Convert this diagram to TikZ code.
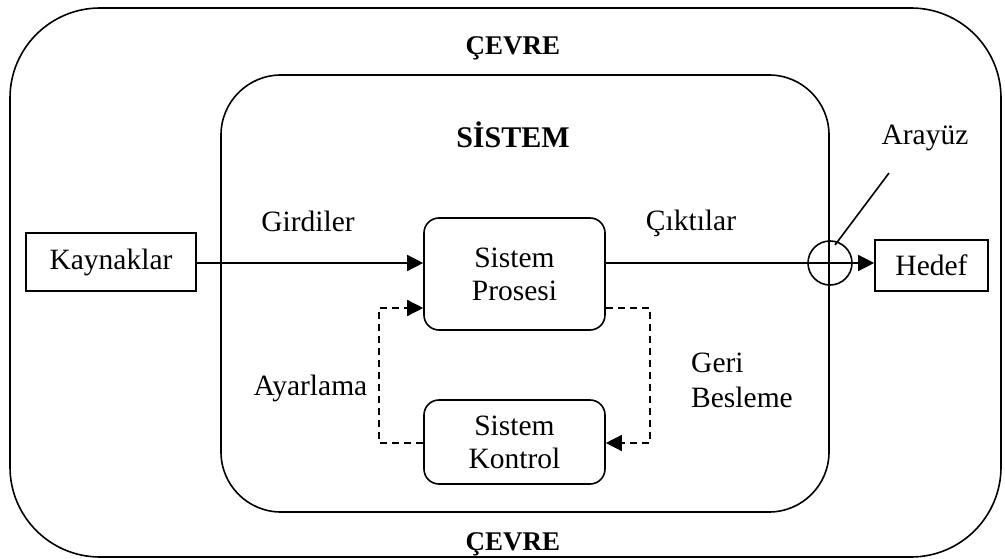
\documentclass[tikz,border=0pt]{standalone}
\usepackage{fontspec}
\setmainfont{Liberation Serif}
\usetikzlibrary{arrows.meta,calc}
\tikzset{
  frame/.style={draw, line width=1.6pt},
  box/.style={draw, line width=1.6pt, rectangle, inner sep=0pt, align=center},
  rbox/.style={box, rounded corners=15pt},
  lbl/.style={anchor=base, inner sep=0pt},
  flow/.style={line width=1.4pt, -{Triangle[length=16pt,width=16pt]}},
  ctrl/.style={flow, dash pattern=on 7pt off 5pt},
  big/.style={font=\fontsize{27}{30}\selectfont\bfseries},
  bigger/.style={font=\fontsize{30}{33}\selectfont\bfseries}
}
\begin{document}
\begin{tikzpicture}[x=1pt,y=-1pt,font=\fontsize{29.5}{33}\selectfont]
\useasboundingbox (0,0) rectangle (1005,559);
% environment and system boundaries
\draw[frame, rounded corners=90pt] (10,8) rectangle (1001,557);
\draw[frame, rounded corners=60pt] (221,75) rectangle (829,512);
% titles
\node[lbl, big] (cevre1) at (513,55) {ÇEVRE};
\node[lbl, big] (cevre2) at (513,550) {ÇEVRE};
\node[lbl, bigger] (sistem) at (513,148) {SİSTEM};
% boxes
\node[box, minimum width=170pt, minimum height=58pt] (kay) at (111,262) {Kaynaklar};
\node[box, minimum width=113pt, minimum height=51pt] (hed) at (931.5,265.5) {Hedef};
\node[rbox, minimum width=181pt, minimum height=112pt] (pp) at (514.5,274) {Sistem\\Prosesi};
\node[rbox, minimum width=181pt, minimum height=84pt] (kk) at (514.5,442) {Sistem\\Kontrol};
% interface circle
\node[draw, line width=1.6pt, circle, minimum size=44pt, inner sep=0pt] (arc) at (830,263) {};
\coordinate (ifs) at (835,245);
\coordinate (ife) at (889,173);
% labels
\node[lbl] (gir) at (308,232) {Girdiler};
\node[lbl] (cik) at (691,231) {Çıktılar};
\node[lbl] (ara) at (925,145) {Arayüz};
\node[lbl] (aya) at (310.5,395) {Ayarlama};
\node[lbl, anchor=base west] (geri) at (691,372) {Geri};
\node[lbl, anchor=base west] (bes) at (691,407) {Besleme};
% connectors
\draw[flow] (kay.east |- 0,263) -- (pp.west |- 0,263);
\draw[flow] (pp.east |- 0,263) -- (hed.west |- 0,263);
\draw[line width=1.6pt] (ifs) -- (ife);
\coordinate (fb) at (650,308);
\coordinate (ad) at (379,308);
\draw[ctrl] (pp.east |- fb) -- (fb) -- (fb |- 0,443) -- (kk.east |- 0,443);
\draw[ctrl] (kk.west |- 0,443) -- (ad |- 0,443) -- (ad) -- (pp.west |- ad);
\end{tikzpicture}
\end{document}
